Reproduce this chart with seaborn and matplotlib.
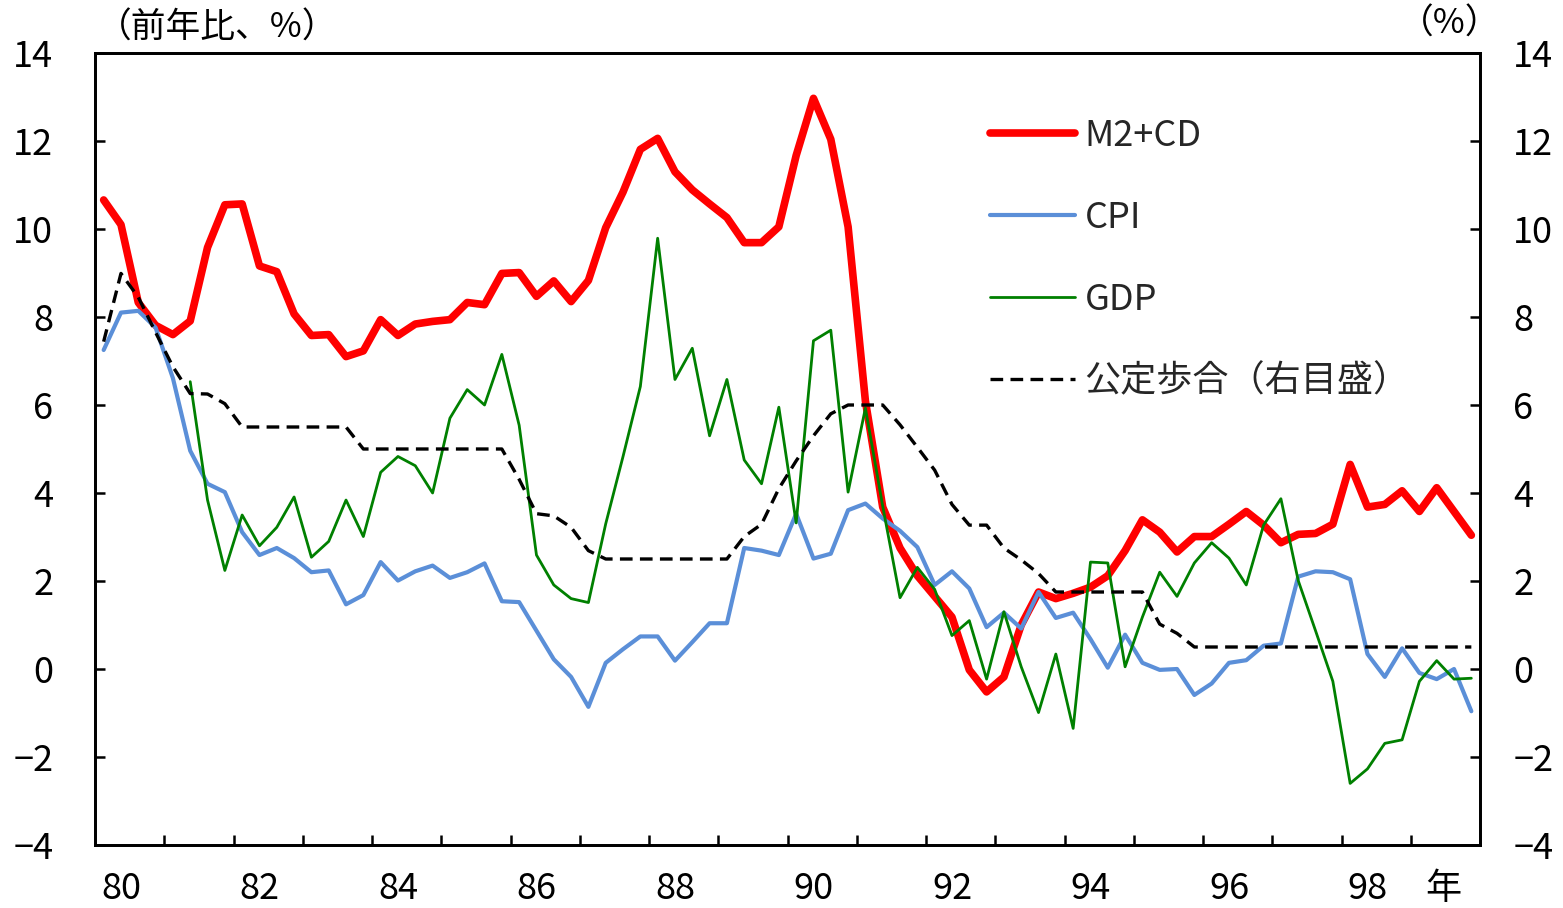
import numpy as np
import pandas as pd
import matplotlib
import matplotlib.pyplot as plt
import seaborn as sns

matplotlib.use('Agg')

# quarterly, 1980Q1 .. 1999Q4 (80 quarters)
quarters = np.arange(80)

m2cd = [10.66, 10.10, 8.33, 7.81, 7.60, 7.91, 9.58, 10.55, 10.57, 9.16,
        9.03, 8.07, 7.58, 7.60, 7.10, 7.23, 7.94, 7.58, 7.84, 7.90,
        7.94, 8.33, 8.28, 8.99, 9.01, 8.47, 8.82, 8.35, 8.83, 10.03,
        10.84, 11.81, 12.06, 11.30, 10.89, 10.57, 10.26, 9.69, 9.69, 10.05,
        11.67, 12.97, 12.04, 10.05, 6.09, 3.68, 2.75, 2.12, 1.65, 1.18,
        -0.02, -0.52, -0.18, 1.00, 1.75, 1.60, 1.72, 1.86, 2.12, 2.69,
        3.39, 3.11, 2.66, 3.01, 3.01, 3.29, 3.58, 3.27, 2.87, 3.06,
        3.08, 3.29, 4.65, 3.68, 3.74, 4.05, 3.58, 4.12, 3.58, 3.04]

cpi = [7.25, 8.10, 8.14, 7.76, 6.61, 4.96, 4.21, 4.02, 3.11, 2.59,
       2.75, 2.52, 2.20, 2.24, 1.47, 1.68, 2.43, 2.01, 2.22, 2.35,
       2.07, 2.20, 2.40, 1.54, 1.52, 0.87, 0.22, -0.18, -0.86, 0.14,
       0.45, 0.74, 0.74, 0.19, 0.61, 1.04, 1.04, 2.75, 2.69, 2.59,
       3.53, 2.51, 2.62, 3.61, 3.76, 3.42, 3.14, 2.77, 1.91, 2.22,
       1.83, 0.95, 1.28, 0.92, 1.75, 1.16, 1.28, 0.68, 0.03, 0.78,
       0.14, -0.02, 0.00, -0.59, -0.33, 0.14, 0.20, 0.53, 0.58, 2.10,
       2.22, 2.20, 2.04, 0.34, -0.18, 0.47, -0.09, -0.23, 0.00, -0.96]

gdp = [np.nan, np.nan, np.nan, np.nan, np.nan, 6.53, 3.84, 2.24, 3.50, 2.80,
       3.22, 3.91, 2.54, 2.90, 3.84, 3.01, 4.47, 4.83, 4.62, 4.00,
       5.70, 6.35, 6.00, 7.15, 5.54, 2.59, 1.91, 1.60, 1.51, 3.30,
       4.83, 6.42, 9.79, 6.58, 7.29, 5.30, 6.58, 4.75, 4.21, 5.95,
       3.32, 7.46, 7.70, 4.02, 5.93, 3.70, 1.62, 2.31, 1.81, 0.76,
       1.10, -0.23, 1.30, 0.05, -0.99, 0.34, -1.35, 2.43, 2.41, 0.05,
       1.18, 2.20, 1.65, 2.41, 2.87, 2.52, 1.91, 3.27, 3.87, 2.01,
       0.87, -0.28, -2.60, -2.27, -1.69, -1.61, -0.28, 0.19, -0.23, -0.21]

odr = [7.44, 8.99, 8.45, 7.65, 6.87, 6.26, 6.25, 6.03, 5.50, 5.50,
       5.50, 5.50, 5.50, 5.50, 5.50, 5.00, 5.00, 5.00, 5.00, 5.00,
       5.00, 5.00, 5.00, 5.00, 4.31, 3.53, 3.48, 3.22, 2.69, 2.50,
       2.50, 2.50, 2.50, 2.50, 2.50, 2.50, 2.50, 3.01, 3.29, 4.10,
       4.73, 5.30, 5.80, 6.00, 6.00, 6.00, 5.55, 5.04, 4.52, 3.74,
       3.27, 3.27, 2.75, 2.48, 2.17, 1.75, 1.75, 1.75, 1.75, 1.75,
       1.75, 1.02, 0.81, 0.50, 0.50, 0.50, 0.50, 0.50, 0.50, 0.50,
       0.50, 0.50, 0.50, 0.50, 0.50, 0.50, 0.50, 0.50, 0.50, 0.50]

year_labels = ['80', '82', '84', '86', '88', '90', '92', '94', '96', '98', '年']
label_pos = [1, 9, 17, 25, 33, 41, 49, 57, 65, 73, 77.4]
year_ticks = [3.5 + 4 * k for k in range(19)]
y_ticks = list(range(-4, 15, 2))

df = pd.DataFrame({'q': quarters, 'M2+CD': m2cd, 'CPI': cpi, 'GDP': gdp,
                   '公定歩合（右目盛）': odr})

sns.set_theme(style='white')
plt.rcParams['font.family'] = ['Noto Sans CJK JP', 'DejaVu Sans']

fig = plt.figure(figsize=(15.63, 9.08), dpi=100)
ax = fig.add_axes([95 / 1563, 63 / 908, 1385 / 1563, 792 / 908])
ax2 = ax.twinx()

sns.lineplot(data=df, x='q', y='M2+CD', ax=ax, color='#ff0000', lw=5.5,
             label='M2+CD', legend=False, estimator=None,
             solid_capstyle='round', solid_joinstyle='round')
sns.lineplot(data=df, x='q', y='CPI', ax=ax, color='#5b8fd8', lw=3.0,
             label='CPI', legend=False, estimator=None)
sns.lineplot(data=df, x='q', y='GDP', ax=ax, color='#008000', lw=2.0,
             label='GDP', legend=False, estimator=None)
sns.lineplot(data=df, x='q', y='公定歩合（右目盛）', ax=ax2, color='black',
             lw=2.4, linestyle=(0, (3.8, 2.2)), label='公定歩合（右目盛）',
             legend=False, estimator=None)

for a in (ax, ax2):
    a.set_xlim(-0.5, 79.5)
    a.set_ylim(-4, 14)
    a.set_yticks(y_ticks)
    a.set_ylabel('')
    a.set_xlabel('')
    for sp in a.spines.values():
        sp.set_visible(True)
        sp.set_color('black')
        sp.set_linewidth(2.0)

ax.set_yticklabels([str(v).replace('-', '\u2212') for v in y_ticks])
ax2.set_yticklabels([str(v).replace('-', '\u2212') for v in y_ticks])

ax.set_xticks(year_ticks)
ax.set_xticklabels([])
ax.set_xticks(label_pos, minor=True)
ax.set_xticklabels(year_labels, minor=True)
ax.tick_params(axis='x', which='major', direction='in', length=7, width=1.8,
               color='black', bottom=True, top=False)
ax.tick_params(axis='x', which='minor', length=0, labelsize=26, pad=19,
               labelcolor='black')
ax.tick_params(axis='y', direction='in', length=7, width=1.8, color='black',
               left=True, right=False, labelsize=26, pad=30, labelcolor='black')
ax2.tick_params(axis='y', direction='in', length=7, width=1.8, color='black',
                right=True, left=False, labelsize=26, pad=24, labelcolor='black')
ax2.tick_params(axis='x', bottom=False, top=False, labelbottom=False)

h1, l1 = ax.get_legend_handles_labels()
h2, l2 = ax2.get_legend_handles_labels()
ax2.legend(h1 + h2, l1 + l2, loc='upper left', bbox_to_anchor=(0.646, 0.918),
           frameon=False, fontsize=26, handlelength=2.35, handletextpad=0.28,
           labelspacing=1.27, borderpad=0, borderaxespad=0)

fig.text(97 / 1563, 1 - 28 / 908, '（前年比、%）', fontsize=25, ha='left',
         va='center', color='black')
fig.text(1500 / 1563, 1 - 24 / 908, '（%）', fontsize=25, ha='right',
         va='center', color='black')

fig.savefig('out.png', dpi=100)
